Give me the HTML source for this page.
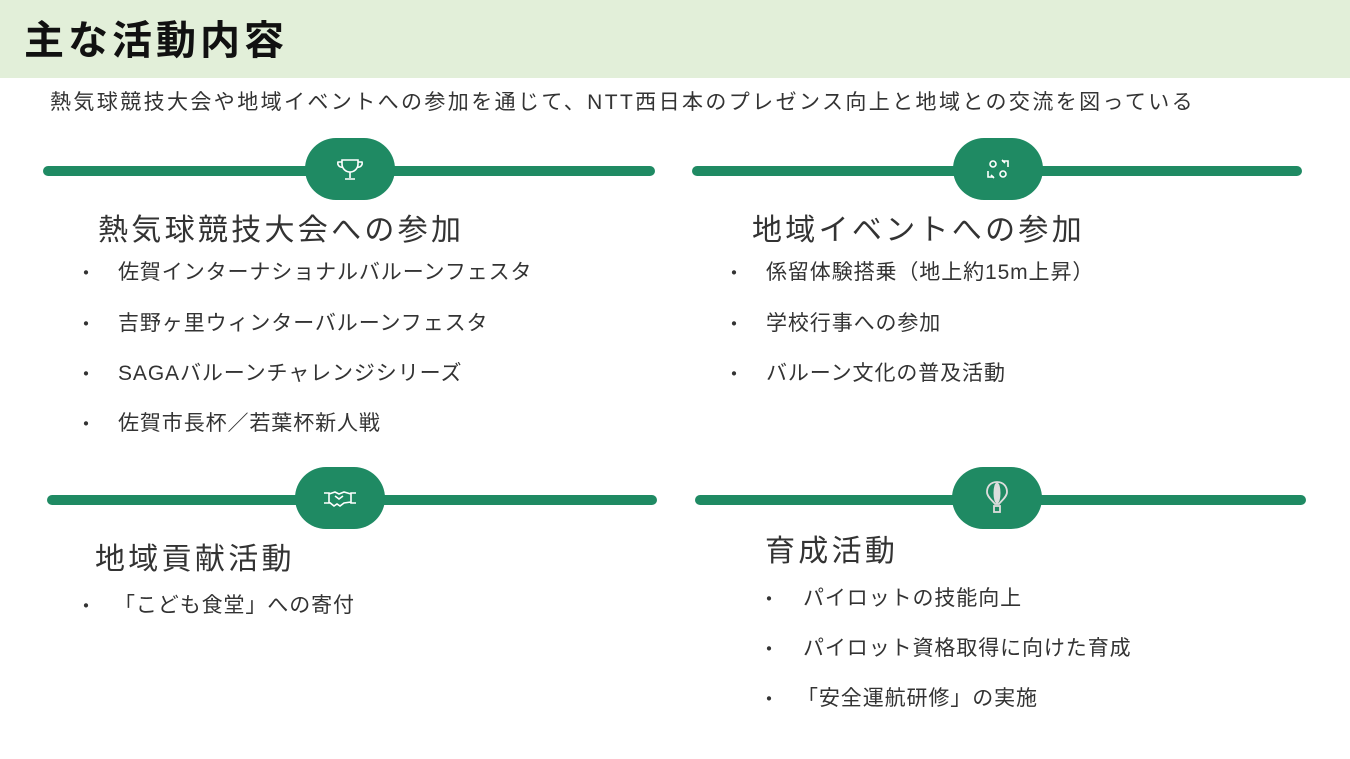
<!DOCTYPE html>
<html><head><meta charset="utf-8"><style>
body{margin:0;width:1350px;height:759px;background:#fff;position:relative;overflow:hidden;font-family:"Liberation Sans","Noto Sans CJK JP",sans-serif;color:#333}
.hd{position:absolute;left:0;top:0;width:1350px;height:78px;background:#e2efd9}
.t{position:absolute;white-space:nowrap}
.line{position:absolute;height:10px;background:#1f8a63;border-radius:5px}
.pill{position:absolute;width:90px;height:62px;background:#1f8a63;border-radius:31px}
.pill svg{position:absolute;left:25px;top:11px}
.h{font-size:30px;letter-spacing:3.3px}
.i{font-size:21px;letter-spacing:0.9px}
.b{font-size:20px}
</style></head><body>
<div class="hd"></div>
<div class="t" style="left:24px;top:8px;font-size:40px;font-weight:bold;color:#111;letter-spacing:4px">主な活動内容</div>
<div class="t" style="left:50px;top:86px;font-size:21px;letter-spacing:2.4px">熱気球競技大会や地域イベントへの参加を通じて、NTT西日本のプレゼンス向上と地域との交流を図っている</div>

<div class="line" style="left:43px;top:166px;width:612px"></div>
<div class="pill" style="left:305px;top:138px"><svg width="40" height="40" viewBox="0 0 40 40" fill="none" stroke="#fff" stroke-width="1.6"><path d="M12 11h16v4a8 8 0 0 1-16 0z"/><path d="M12 13h-4a4 4 0 0 0 5 5M28 13h4a4 4 0 0 1-5 5M20 23v6M15 30h10"/></svg></div>
<div class="line" style="left:692px;top:166px;width:610px"></div>
<div class="pill" style="left:953px;top:138px"><svg width="40" height="40" viewBox="0 0 40 40" fill="none" stroke="#fff" stroke-width="1.6"><circle cx="15" cy="15" r="3"/><circle cx="25" cy="25" r="3"/><path d="M10 22v6h6M30 18v-6h-6M13 26l3 3M27 14l-3-3"/></svg></div>
<div class="line" style="left:47px;top:495px;width:610px"></div>
<div class="pill" style="left:295px;top:467px"><svg width="40" height="40" viewBox="0 0 40 40" fill="none" stroke="#fff" stroke-width="1.6"><path d="M4 15h5v10H4M36 15h-5v10h5M9 16l6-2 4 2 5-2 7 2M9 24l5 4 3-2 3 2 4-3 7-1M15 18l4 3 4-3"/></svg></div>
<div class="line" style="left:695px;top:495px;width:611px"></div>
<div class="pill" style="left:952px;top:467px"><svg width="40" height="40" viewBox="0 0 40 40" fill="#ddd" stroke="#ddd" stroke-width="1"><path d="M20 4c-7 0-10 5-10 10 0 5 6 9 8 12h4c2-3 8-7 8-12 0-5-3-10-10-10z" fill="none" stroke-width="1.8"/><ellipse cx="20" cy="15" rx="3" ry="10"/><rect x="17" y="28" width="6" height="6" fill="none" stroke-width="1.8"/></svg></div>

<div class="t h" style="left:98px;top:205px">熱気球競技大会への参加</div>
<div class="t b" style="left:76px;top:257px">・</div><div class="t i" style="left:118px;top:256px">佐賀インターナショナルバルーンフェスタ</div>
<div class="t b" style="left:76px;top:308px">・</div><div class="t i" style="left:118px;top:307px">吉野ヶ里ウィンターバルーンフェスタ</div>
<div class="t b" style="left:76px;top:358px">・</div><div class="t i" style="left:118px;top:357px">SAGAバルーンチャレンジシリーズ</div>
<div class="t b" style="left:76px;top:408px">・</div><div class="t i" style="left:118px;top:407px">佐賀市長杯／若葉杯新人戦</div>

<div class="t h" style="left:752px;top:205px">地域イベントへの参加</div>
<div class="t b" style="left:724px;top:257px">・</div><div class="t i" style="left:766px;top:256px">係留体験搭乗（地上約15m上昇）</div>
<div class="t b" style="left:724px;top:308px">・</div><div class="t i" style="left:766px;top:307px">学校行事への参加</div>
<div class="t b" style="left:724px;top:358px">・</div><div class="t i" style="left:766px;top:357px">バルーン文化の普及活動</div>

<div class="t h" style="left:95px;top:534px">地域貢献活動</div>
<div class="t b" style="left:76px;top:590px">・</div><div class="t i" style="left:114px;top:589px">「こども食堂」への寄付</div>

<div class="t h" style="left:765px;top:526px">育成活動</div>
<div class="t b" style="left:759px;top:583px">・</div><div class="t i" style="left:803px;top:582px">パイロットの技能向上</div>
<div class="t b" style="left:759px;top:633px">・</div><div class="t i" style="left:803px;top:632px">パイロット資格取得に向けた育成</div>
<div class="t b" style="left:759px;top:683px">・</div><div class="t i" style="left:797px;top:682px">「安全運航研修」の実施</div>
</body></html>
